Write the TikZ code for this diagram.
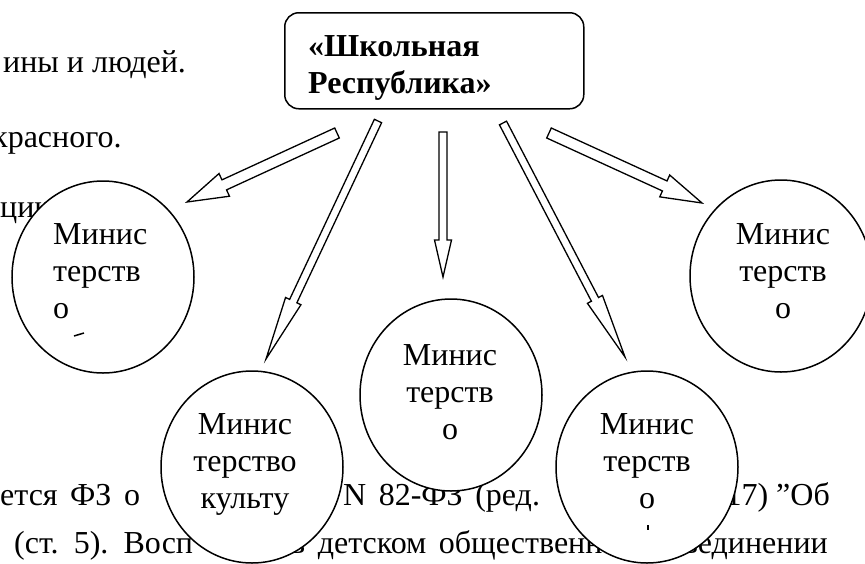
\documentclass[tikz,border=0pt]{standalone}
\usepackage{fontspec}
\setmainfont{Liberation Serif}[Ligatures=ResetAll]
\usetikzlibrary{calc,shapes.geometric}

\newcommand\ministryfont{\fontsize{32}{37}\selectfont}
\newcommand\textlinefont{\fontsize{32}{37}\selectfont\spaceskip=12.5pt\relax}

% hollow block arrow: tail, tip, shaft half width, head half width, head length
\newcommand\blockarrow[5]{%
  \coordinate (headbase) at ($(#2)!#5pt!(#1)$);
  \draw[arrowline] ($(#1)!#3pt!90:(#2)$) -- ($(headbase)!#3pt!90:(#2)$)
    -- ($(headbase)!#4pt!90:(#2)$) -- (#2) -- ($(headbase)!#4pt!-90:(#2)$)
    -- ($(headbase)!#3pt!-90:(#2)$) -- ($(#1)!#3pt!-90:(#2)$) -- cycle;
}

\begin{document}
\begin{tikzpicture}[x=1pt, y=-1pt,
	textline/.style     = {anchor=base west, inner sep=0pt, font=\ministryfont},
	justline/.style     = {textline, font=\textlinefont},
	ministry/.style     = {draw, ellipse, fill=white, line width=1.5pt, minimum width=182pt, minimum height=192pt, inner sep=0pt},
	ministrytext/.style = {inner sep=0pt, font=\ministryfont, align=center, anchor=base},
	titlebox/.style     = {draw, rectangle, rounded corners=14pt, fill=white, line width=1.5pt, minimum width=299pt, minimum height=96pt},
	arrowline/.style    = {fill=white, line width=1.3pt, line join=miter}]
	
	\useasboundingbox (0,0) rectangle (865,563);
	\clip (0,0) rectangle (865,563);
	
	% text of the page behind the scheme
	\node[textline] (line1) at (3,72) {ины и людей.};
	\node[textline] (line2) at (-8,147) {красного.};
	\node[textline] (line3) at (0,217) {ции};
	\node[justline] (line4a) at (0,505) {ется ФЗ о};
	\node[justline] (line4b) at (343,505) {N 82-ФЗ (ред.};
	\node[textline, anchor=base east] (line4c) at (830,505) {17) "Об};
	\node[justline] (line5a) at (14,553) {(ст. 5). Восп};
	\node[justline] (line5b) at (290,553) {в детском общественн};
	\node[justline, anchor=base east] (line5c) at (828,553) {ъединении};
	
	% arrows from the title box
	\coordinate (tail1) at (337,133);  \coordinate (tip1) at (187,202);
	\coordinate (tail2) at (378,121);  \coordinate (tip2) at (266,359);
	\coordinate (tail3) at (443,132);  \coordinate (tip3) at (443,277);
	\coordinate (tail4) at (503,123);  \coordinate (tip4) at (625,357);
	\coordinate (tail5) at (549,133);  \coordinate (tip5) at (702,203);
	\foreach \i/\w/\h/\l in {1/5.5/12.5/41, 2/4/8.5/64, 3/4/8.5/37, 4/4/8.5/65, 5/5.5/12/41}
	\blockarrow{tail\i}{tip\i}{\w}{\h}{\l};
	
	% ministries
	\node[ministry] (m1) at (103,277) {};
	\node[ministry] (m2) at (252,467) {};
	\node[ministry] (m3) at (451,395) {};
	\node[ministry] (m4) at (647,467) {};
	\node[ministry] (m5) at (781,276) {};
	
	% (the base anchor sits on the last line)
	\node[ministrytext, anchor=base west, align=left] (t1) at (53,318) {Минис\\терств\\о};
	\node[ministrytext] (t2) at (245,508) {Минис\\терство\\культу};
	\node[ministrytext] (t3) at (450,439) {Минис\\терств\\о};
	\node[ministrytext] (t4) at (647,508) {Минис\\терств\\о};
	\node[ministrytext] (t5) at (783,318) {Минис\\терств\\о};
	
	% clipped remains of a fourth line
	\draw[line width=1.5pt] (74,336) -- (84,333);
	\draw[line width=1.5pt] (648,525) -- (648,530);
	
	% title
	\node[titlebox, anchor=north west] (rep) at (284,12) {};
	\node[textline, font=\bfseries\ministryfont, align=left] (reptitle) at (308,93) {«Школьная\\Республика»};
	
\end{tikzpicture}
\end{document}
